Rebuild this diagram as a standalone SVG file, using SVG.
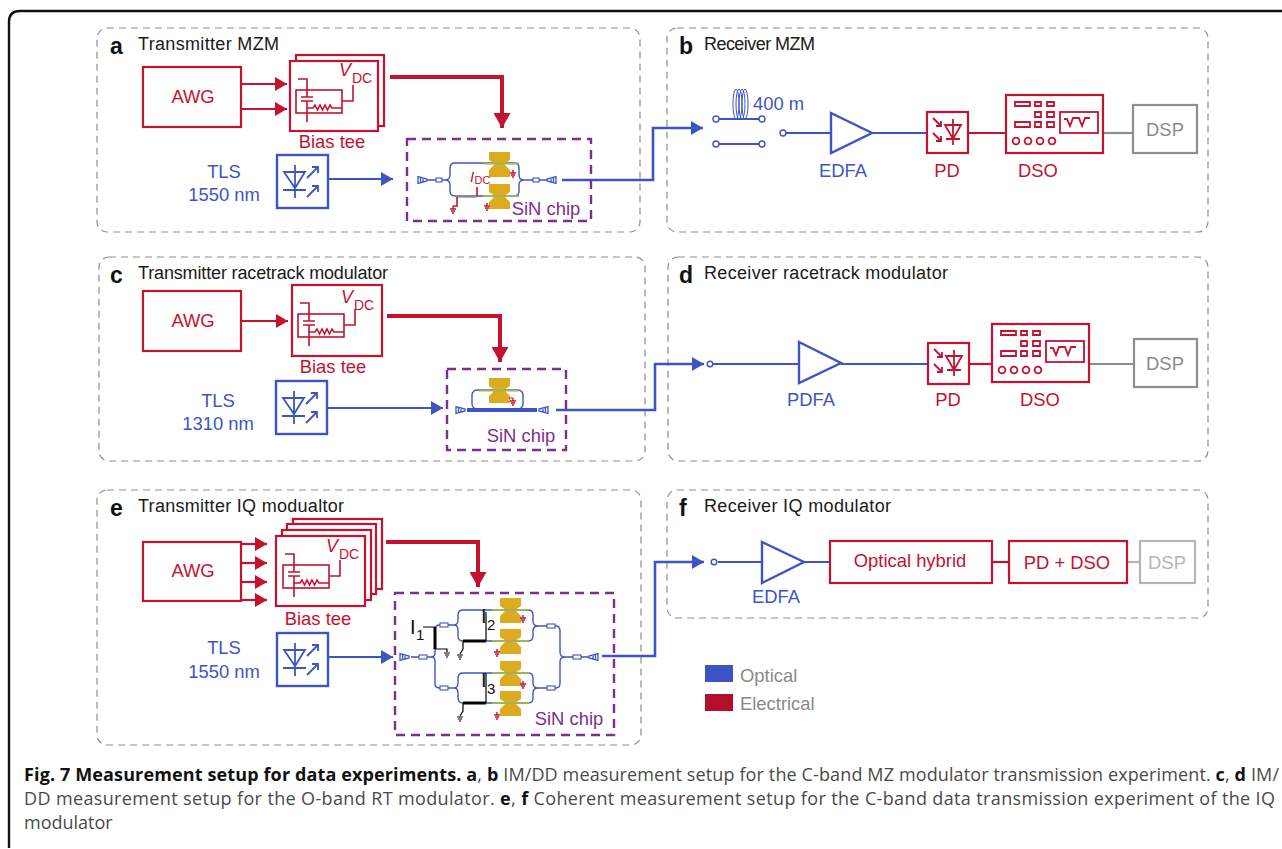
<svg xmlns="http://www.w3.org/2000/svg" width="1282" height="849" viewBox="0 0 1282 849">
<style>
text{font-family:"Liberation Sans",Arial,sans-serif;font-size:18.4px}
.h{fill:#1a1a1a;font-size:18px}
.l{fill:#111;font-size:23px;font-weight:bold}
.r{fill:#c4122f}.b{fill:#3d55c4}.p{fill:#7d2e8f}.g{fill:#8a8a8a}
.m{text-anchor:middle}
.v{font-style:italic;font-size:18px}
.dc{font-size:14px}
.panel{fill:none;stroke:#8e8e8e;stroke-width:1.200;stroke-dasharray:7 5}
.chip{fill:none;stroke:#7d2e8f;stroke-width:2.400;stroke-dasharray:9 6}
.rb{fill:#fff;stroke:#c4122f;stroke-width:2.200}
.bb{fill:#fff;stroke:#3d55c4;stroke-width:2.400}
.gb{fill:#fff;stroke:#8e8e8e;stroke-width:2.200}
.rl{fill:none;stroke:#c4122f;stroke-width:1.600}
.rc{fill:none;stroke:#c4122f;stroke-width:2.200}
.rt{fill:none;stroke:#c4122f;stroke-width:4}
.bl{fill:none;stroke:#3d55c4;stroke-width:1.800}
.bc{fill:none;stroke:#3d55c4;stroke-width:2.200}
.bo{fill:none;stroke:#3d55c4;stroke-width:2.600}
.gc{fill:none;stroke:#8e8e8e;stroke-width:2.200}
.wg{fill:none;stroke:#3d55c4;stroke-width:1.400}
.gr{fill:none;stroke:#9db35c;stroke-width:1.800}
.au{fill:#dcab1f}
.wb{fill:#fff;stroke:#3d55c4;stroke-width:1.100}
.sw{fill:#fff;stroke:#3d55c4;stroke-width:1.400}
.cap{font-family:"Open Sans","Noto Sans",sans-serif;font-size:18px;fill:#4a4a4a}
.capb{font-weight:bold;fill:#111}
.blk{fill:none;stroke:#000;stroke-width:1.200}
.blt{fill:none;stroke:#000;stroke-width:3}
.k{fill:#111;font-size:20px}
.ks{fill:#111;font-size:15px}
</style>
<defs>
<marker id="ar" markerUnits="userSpaceOnUse" markerWidth="13" markerHeight="14" refX="12" refY="7" orient="auto"><path d="M0 0L12 7L0 14Z" fill="#c4122f"/></marker>
<marker id="art" markerUnits="userSpaceOnUse" markerWidth="16" markerHeight="17" refX="15" refY="8.500" orient="auto"><path d="M0 0L15 8.500L0 17Z" fill="#c4122f"/></marker>
<marker id="ab" markerUnits="userSpaceOnUse" markerWidth="13" markerHeight="14" refX="12" refY="7" orient="auto"><path d="M0 0L12 7L0 14Z" fill="#3d55c4"/></marker>
<g id="biastee">
<rect class="rl" x="0" y="0" width="46" height="23"/>
<path class="rl" d="M2 -11H11V7M5 7H17M5 11H17M11 11V32M11 18H17l2-3 2.500 5 2.500-5 2.500 5 2.500-5 2.500 5 2.500-5 2 3H46M46 11H57V-5"/>
</g>
<g id="tls">
<path class="bl" d="M7 17H28L18 33ZM18 10V43M6 35H29M30 23L41 12M35 12H41V18M30 42L41 31M35 31H41V37"/>
</g>
<g id="pd">
<path class="rl" style="stroke-width:1.800" d="M6 6L14 14M9 14H14V9M6 21L14 29M9 29H14V24M18 13H34L26 27ZM26 7V33M19 27H33"/>
</g>
<g id="dso">
<path class="rc" style="stroke-width:1.800" d="M9 7h15v4H9zM29 7h6v4h-6zM41 7h7v4h-7zM29 17h6v5h-6zM41 17h7v5h-7zM9 27h15v5H9zM29 27h6v5h-6zM41 27h7v5h-7z"/>
<circle class="rc" style="stroke-width:1.800" cx="10" cy="46" r="3.400"/><circle class="rc" style="stroke-width:1.800" cx="22" cy="46" r="3.400"/><circle class="rc" style="stroke-width:1.800" cx="34" cy="46" r="3.400"/><circle class="rc" style="stroke-width:1.800" cx="46" cy="46" r="3.400"/>
<rect class="rc" style="stroke-width:1.800" x="54" y="17" width="38" height="21"/>
<path class="rc" style="stroke-width:1.800" d="M58 24h3l3 7 3-8h6l3 8 3-8h5"/>
</g>
<g id="gc"><path class="wg" d="M0 -3.500L0 3.500L9 1V-1ZM2.500 -3V3M5 -2.500V2.500" style="stroke-width:1.300"/></g>
<g id="gnd"><path d="M0 -3V0M-3 0H3M-2 2H2M-1 4H1" stroke="#c4122f" stroke-width="1.400" fill="none"/></g>
<g id="gndk"><path d="M-3 0H3M-2 2H2M-1 4H1" stroke="#000" stroke-width="1.200" fill="none"/></g>
<path id="pad" class="au" d="M0 0H21V8L15 12L21 18V25H0V18L6 12L0 8Z"/>
</defs>

<g id="frame">
<path d="M1282 11H20Q9 11 9 22V848" fill="none" stroke="#111" stroke-width="2.400"/>
</g>

<g id="panels">
<rect class="panel" x="97" y="28" width="543" height="204" rx="10"/>
<rect class="panel" x="667" y="28" width="541" height="204" rx="10"/>
<rect class="panel" x="99" y="257" width="546" height="204" rx="10"/>
<rect class="panel" x="668" y="257" width="540" height="204" rx="10"/>
<rect class="panel" x="97" y="490" width="544" height="255" rx="10"/>
<rect class="panel" x="667" y="490" width="541" height="128" rx="10"/>
</g>

<g id="connectors">
<path class="rc" d="M241 84H287" marker-end="url(#ar)"/>
<path class="rc" d="M241 109H287" marker-end="url(#ar)"/>
<path class="rt" d="M390 77H502V128" marker-end="url(#art)"/>
<path class="bc" d="M328 179H393" marker-end="url(#ab)"/>
<path class="bo" d="M562 180H653V128H703" marker-end="url(#ab)"/>
<path class="bc" d="M786 133H831M872 133H927"/>
<path class="rc" d="M968 133H1006"/>
<path class="gc" d="M1103 133H1133"/>

<path class="rc" d="M241 321H288" marker-end="url(#ar)"/>
<path class="rt" d="M387 316H500V362" marker-end="url(#art)"/>
<path class="bc" d="M328 408H443" marker-end="url(#ab)"/>
<path class="bo" d="M556 410H655V364H704" marker-end="url(#ab)"/>
<path class="bc" d="M713 364H799M841 364H928"/>
<path class="rc" d="M969 364H992"/>
<path class="gc" d="M1089 364H1134"/>

<path class="rc" d="M241 544H267" marker-end="url(#ar)"/>
<path class="rc" d="M241 563H267" marker-end="url(#ar)"/>
<path class="rc" d="M241 582H267" marker-end="url(#ar)"/>
<path class="rc" d="M241 600H267" marker-end="url(#ar)"/>
<path class="rt" d="M386 542H478V587" marker-end="url(#art)"/>
<path class="bc" d="M328 657H393" marker-end="url(#ab)"/>
<path class="bo" d="M602 656H655V562H704" marker-end="url(#ab)"/>
<path class="bc" d="M718 562H762M804 562H830"/>
<path class="rc" d="M992 562H1009"/>
<path d="M1127 562H1140" fill="none" stroke="#b5b5b5" stroke-width="2.200"/>
</g>

<g id="panel-a">
<text class="l" x="110" y="54">a</text><text class="h" x="138" y="50" textLength="141">Transmitter MZM</text>
<g id="a-awg"><rect class="rb" x="143" y="67" width="98" height="60"/><text class="r m" x="193" y="103">AWG</text></g>
<g id="a-bias">
<rect class="rb" x="296" y="55" width="88" height="71"/>
<rect class="rb" x="290" y="61" width="88" height="70"/>
<use href="#biastee" x="296" y="90"/>
<text class="r v" x="339" y="76">V</text><text class="r dc" x="352" y="83">DC</text>
<text class="r m" x="332" y="148">Bias tee</text>
</g>
<g id="a-tls">
<rect class="bb" x="277" y="155" width="51" height="53"/><use href="#tls" x="277" y="155"/>
<text class="b m" x="224" y="178">TLS</text><text class="b m" x="224" y="201">1550 nm</text>
</g>
<g id="a-chip">
<rect class="chip" x="407" y="139" width="184" height="82"/>
<path class="wg" d="M427 180H436M442 180H445Q450 180 450 175V168Q450 163 455 163H514Q519 163 519 168V175Q519 180 524 180H533M539 180H547M442 180H445Q450 180 450 185V191Q450 196 455 196H514Q519 196 519 191V185Q519 180 524 180"/>
<rect class="wb" x="436" y="178" width="6" height="4"/>
<rect class="wb" x="533" y="178" width="6" height="4"/>
<use href="#gc" transform="translate(418 180)"/>
<use href="#gc" transform="translate(556 180) scale(-1 1)"/>
<use href="#pad" transform="translate(489 152)"/>
<use href="#pad" transform="translate(489 184)"/>
<path class="gr" d="M483 163.500H519M483 196H519"/>
<path d="M456 196.500H477" stroke="#8e8e8e" stroke-width="2.400"/>
<path class="rl" d="M477 187V196M457 197V206H453"/>
<use href="#gnd" x="453" y="209"/><use href="#gnd" x="513" y="173"/><use href="#gnd" x="487" y="206"/>
<text class="r" x="470" y="182" style="font-style:italic;font-size:15px">I</text><text class="r" x="474.500" y="184" style="font-size:11px">DC</text>
<text class="p m" x="546" y="215">SiN chip</text>
</g>
</g>

<g id="panel-b">
<text class="l" x="679" y="54">b</text><text class="h" x="704" y="50" textLength="111">Receiver MZM</text>
<g id="b-fiber">
<g fill="none" stroke="#3d55c4" stroke-width="1"><ellipse cx="736" cy="104" rx="3" ry="15"/><ellipse cx="739" cy="104" rx="3" ry="15"/><ellipse cx="742" cy="104" rx="3" ry="15"/><ellipse cx="745" cy="104" rx="3" ry="15"/></g>
<path class="bl" d="M719 119H759M719 144H759"/>
<circle class="sw" cx="716" cy="119" r="3"/><circle class="sw" cx="762" cy="119" r="3"/><circle class="sw" cx="716" cy="144" r="3"/><circle class="sw" cx="762" cy="144" r="3"/><circle class="sw" cx="783" cy="133" r="3"/>
<text class="b" x="753" y="110">400 m</text>
</g>
<g id="b-edfa"><path class="bb" d="M831 113L872 133L831 153Z"/><text class="b m" x="843" y="177">EDFA</text></g>
<g id="b-pd"><rect class="rb" x="927" y="112" width="41" height="41"/><use href="#pd" x="927" y="112"/><text class="r m" x="947" y="177">PD</text></g>
<g id="b-dso"><rect class="rb" x="1006" y="95" width="97" height="58"/><use href="#dso" x="1006" y="95"/><text class="r m" x="1038" y="177">DSO</text></g>
<g id="b-dsp"><rect class="gb" x="1133" y="105" width="64" height="48"/><text class="g m" x="1165" y="136">DSP</text></g>
</g>

<g id="panel-c">
<text class="l" x="110" y="283">c</text><text class="h" x="138" y="279" textLength="250">Transmitter racetrack modulator</text>
<g id="c-awg"><rect class="rb" x="143" y="291" width="98" height="60"/><text class="r m" x="193" y="327">AWG</text></g>
<g id="c-bias">
<rect class="rb" x="292" y="285" width="90" height="71"/>
<use href="#biastee" x="298" y="314"/>
<text class="r v" x="341" y="303">V</text><text class="r dc" x="354" y="310">DC</text>
<text class="r m" x="333" y="373">Bias tee</text>
</g>
<g id="c-tls">
<rect class="bb" x="276" y="381" width="51" height="53"/><use href="#tls" x="276" y="381"/>
<text class="b m" x="218" y="407">TLS</text><text class="b m" x="218" y="430">1310 nm</text>
</g>
<g id="c-chip">
<rect class="chip" x="447" y="369" width="119" height="81"/>
<rect class="wg" x="472" y="390" width="51" height="19" rx="5"/>
<use href="#pad" transform="translate(489 378)"/>
<path class="gr" d="M479 390.500H519"/>
<path d="M467 410H537" stroke="#3d55c4" stroke-width="4"/>
<use href="#gc" transform="translate(456 410)"/><use href="#gc" transform="translate(548 410) scale(-1 1)"/>
<use href="#gnd" x="513" y="401"/><path class="rl" d="M509 398H513" style="stroke-width:1"/>
<text class="p m" x="521" y="442">SiN chip</text>
</g>
</g>

<g id="panel-d">
<text class="l" x="679" y="283">d</text><text class="h" x="704" y="279" textLength="244">Receiver racetrack modulator</text>
<circle class="sw" cx="710" cy="364" r="2.800"/>
<g id="d-pdfa"><path class="bb" d="M799 342L841 363L799 383Z"/><text class="b m" x="811" y="406">PDFA</text></g>
<g id="d-pd"><rect class="rb" x="928" y="343" width="41" height="41"/><use href="#pd" x="928" y="343"/><text class="r m" x="948" y="406">PD</text></g>
<g id="d-dso"><rect class="rb" x="992" y="324" width="97" height="58"/><use href="#dso" x="992" y="324"/><text class="r m" x="1040" y="406">DSO</text></g>
<g id="d-dsp"><rect class="gb" x="1134" y="339" width="63" height="48"/><text class="g m" x="1165" y="370">DSP</text></g>
</g>

<g id="panel-e">
<text class="l" x="110" y="516">e</text><text class="h" x="138" y="512" textLength="206">Transmitter IQ modualtor</text>
<g id="e-awg"><rect class="rb" x="143" y="542" width="98" height="59"/><text class="r m" x="193" y="577">AWG</text></g>
<g id="e-bias">
<rect class="rb" x="293" y="519" width="89" height="70"/>
<rect class="rb" x="287" y="524" width="89" height="70"/>
<rect class="rb" x="282" y="530" width="89" height="70"/>
<rect class="rb" x="276" y="536" width="89" height="70"/>
<use href="#biastee" x="283" y="565"/>
<text class="r v" x="326" y="552">V</text><text class="r dc" x="339" y="559">DC</text>
<text class="r m" x="318" y="625">Bias tee</text>
</g>
<g id="e-tls">
<rect class="bb" x="277" y="633" width="51" height="53"/><use href="#tls" x="277" y="633"/>
<text class="b m" x="224" y="654">TLS</text><text class="b m" x="224" y="678">1550 nm</text>
</g>
<g id="e-chip">
<rect class="chip" x="395" y="593" width="219" height="142"/>
<path class="wg" d="M411 657H419M427 657H431Q435 657 435 653V630Q435 625 440 625M431 657Q435 657 435 661V684Q435 688 440 688M448 625H454Q458 625 458 620V615Q458 610 463 610H528Q533 610 533 615V621Q533 626 538 626H547M448 625H454Q458 625 458 630V636Q458 641 463 641H528Q533 641 533 636V631Q533 626 538 626M448 688H454Q458 688 458 683V678Q458 673 463 673H528Q533 673 533 678V683Q533 688 538 688H547M448 688H454Q458 688 458 693V698Q458 703 463 703H528Q533 703 533 698V693Q533 688 538 688M555 626H556Q560 626 560 631V652Q560 657 565 657H573M555 688H556Q560 688 560 683V662Q560 657 565 657M581 657H589"/>
<rect class="wb" x="419" y="655" width="8" height="4"/><rect class="wb" x="440" y="623" width="8" height="4"/><rect class="wb" x="440" y="686" width="8" height="4"/><rect class="wb" x="547" y="624" width="8" height="4"/><rect class="wb" x="547" y="686" width="8" height="4"/><rect class="wb" x="573" y="655" width="8" height="4"/>
<use href="#gc" transform="translate(400 657)"/><use href="#gc" transform="translate(598 657) scale(-1 1)"/>
<use href="#pad" transform="translate(500 598)"/><use href="#pad" transform="translate(500 629)"/><use href="#pad" transform="translate(500 661)"/><use href="#pad" transform="translate(500 691)"/>
<path class="gr" d="M492 610H529M492 641H529M492 673H529M492 703H529"/>
<path class="blk" d="M423 627H435M435 649H447V652M486 612V641M463 641V649L460 654M486 673V703M463 703V711L460 716"/>
<path class="blt" d="M435 627V649M463 641H486M463 703H486"/>
<use href="#gndk" x="447" y="653"/><use href="#gndk" x="460" y="655"/><use href="#gndk" x="460" y="717"/>
<use href="#gnd" x="523" y="618"/><use href="#gnd" x="497" y="652"/><use href="#gnd" x="523" y="684"/><use href="#gnd" x="497" y="715"/>
<text class="k" x="410" y="634">I</text><text class="ks" x="416" y="640">1</text>
<text class="k" x="481" y="623">I</text><text class="ks" x="487" y="630">2</text>
<text class="k" x="481" y="687">I</text><text class="ks" x="487" y="694">3</text>
<text class="p m" x="569" y="725">SiN chip</text>
</g>
</g>

<g id="panel-f">
<text class="l" x="679" y="516">f</text><text class="h" x="704" y="512" textLength="187">Receiver IQ modulator</text>
<circle class="sw" cx="714" cy="562" r="2.800"/>
<g id="f-edfa"><path class="bb" d="M762 542L804 562L762 583Z"/><text class="b m" x="776" y="603">EDFA</text></g>
<g id="f-hybrid"><rect class="rb" x="830" y="541" width="162" height="42"/><text class="r m" x="910" y="567">Optical hybrid</text></g>
<g id="f-pddso"><rect class="rb" x="1009" y="541" width="118" height="42"/><text class="r m" x="1067" y="569">PD + DSO</text></g>
<g id="f-dsp"><rect x="1140" y="541" width="55" height="42" fill="#fff" stroke="#b5b5b5" stroke-width="2.200"/><text class="m" fill="#b5b5b5" x="1167" y="569">DSP</text></g>
</g>

<g id="legend">
<rect x="705" y="665" width="28" height="17" fill="#3d55c4"/><text class="g" x="740" y="682">Optical</text>
<rect x="705" y="694" width="28" height="17" fill="#b50e2a"/><text class="g" x="740" y="710">Electrical</text>
</g>

<g id="caption">
<text class="cap" x="24" y="781" textLength="1255"><tspan class="capb">Fig. 7 Measurement setup for data experiments. a</tspan>, <tspan class="capb">b</tspan> IM/DD measurement setup for the C-band MZ modulator transmission experiment. <tspan class="capb">c</tspan>, <tspan class="capb">d</tspan> IM/</text>
<text class="cap" x="24" y="805" textLength="1251"><tspan>DD measurement setup for the O-band RT modulator. </tspan><tspan class="capb">e</tspan>, <tspan class="capb">f</tspan> Coherent measurement setup for the C-band data transmission experiment of the IQ</text>
<text class="cap" x="24" y="829">modulator</text>
</g>
</svg>
